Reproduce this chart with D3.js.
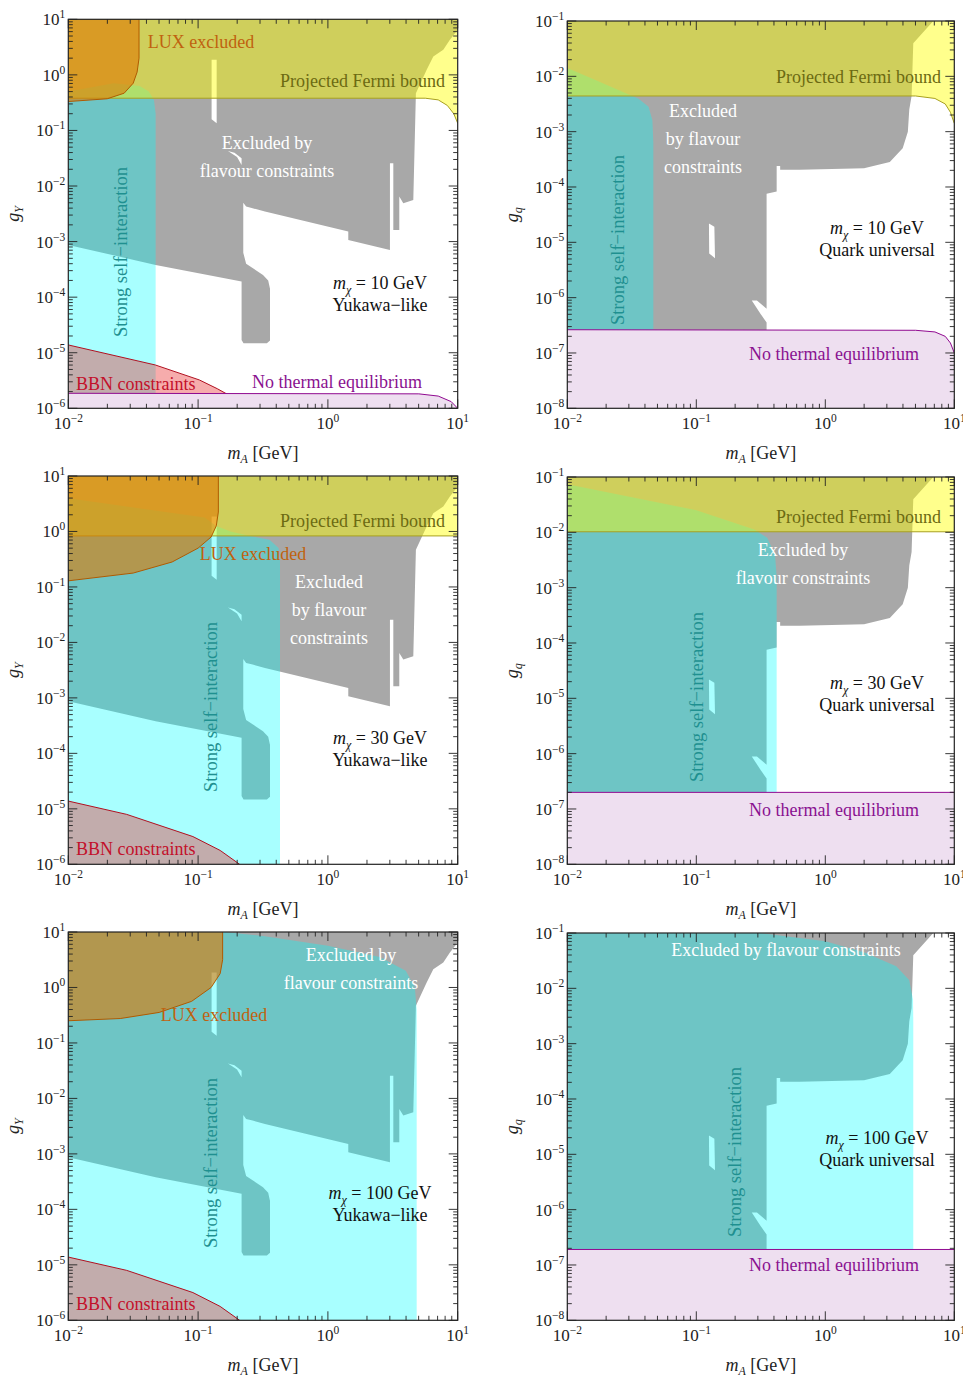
<!DOCTYPE html>
<html>
<head>
<meta charset="utf-8">
<script src="https://cdn.jsdelivr.net/npm/d3@7"></script>
<style>
body { margin:0; background:#fff; }
text { font-family: "Liberation Serif", "DejaVu Serif", serif; }
</style>
</head>
<body>
<svg id="fig" width="963" height="1376"></svg>
<script>
// all shapes are [log10 mA, log10 g]
var flavourYukawa = [[-2,1],[1,1],[1,0.81],[0.94,0.63],[0.889,0.45],[0.812,0.33],[0.761,0.09],[0.678,-0.33],[0.658,-2.25],[0.581,-2.31],[0.55,-2.19],[0.55,-2.79],[0.504,-2.79],[0.504,-1.59],[0.478,-1.59],[0.478,-3.15],[0.157,-2.97],[0.157,-2.82],[-0.485,-2.46],[-0.58,-2.4],[-0.63,-2.37],[-0.652,-2.3],[-0.652,-3.2],[-0.63,-3.4],[-0.5,-3.6],[-0.46,-3.7],[-0.446,-3.85],[-0.446,-4.78],[-0.47,-4.83],[-0.65,-4.83],[-0.665,-4.77],[-0.665,-3.72],[-1.327,-3.42],[-2,-3.06]];
var flavourYukawaHoles = [
  [[-0.896,0.27],[-0.857,0.27],[-0.857,-0.87],[-0.896,-0.8]],
  [[-0.77,-1.37],[-0.72,-1.4],[-0.665,-1.5],[-0.665,-1.62],[-0.7,-1.48]]
];
var flavourQuark = [[-2,-1],[0.837,-1],[0.682,-1.40],[0.669,-2.355],[0.651,-2.6],[0.64,-3.0],[0.6,-3.3],[0.5,-3.55],[0.3,-3.66],[-0.2,-3.69],[-0.35,-3.69],[-0.35,-3.62],[-0.377,-3.62],[-0.377,-4.08],[-0.455,-4.12],[-0.455,-6.2],[-0.53,-6.05],[-0.57,-6.05],[-0.5,-6.3],[-0.455,-6.45],[-0.455,-8],[-2,-8]];
var flavourQuarkHoles = [[[-0.902,-4.66],[-0.86,-4.72],[-0.855,-5.29],[-0.9,-5.2]]];

var selfA = [[-2,-0.3],[-1.65,-0.15],[-1.45,-0.2],[-1.38,-0.3],[-1.34,-0.45],[-1.327,-0.7],[-1.327,-8],[-2,-8]];
var selfB = [[-2,-1.85],[-1.8,-2.05],[-1.6,-2.25],[-1.45,-2.4],[-1.37,-2.55],[-1.34,-2.8],[-1.333,-3.2],[-1.333,-8],[-2,-8]];
var selfC = [[-2,0.6],[-0.95,0.25],[-0.86,0.1],[-0.75,0.0],[-0.6,-0.08],[-0.45,-0.15],[-0.38,-0.3],[-0.369,-0.5],[-0.369,-8],[-2,-8]];
var selfD = [[-2,-1.13],[-1.0,-1.6],[-0.55,-1.95],[-0.45,-2.1],[-0.39,-2.4],[-0.377,-2.8],[-0.377,-8],[-2,-8]];
var selfE = [[-2,1],[-0.8,1],[-0.5,0.93],[0,0.75],[0.4,0.55],[0.6,0.3],[0.67,0.0],[0.684,-0.4],[0.684,-8],[-2,-8]];
var selfF = [[-2,-1],[-0.5,-1],[0,-1.15],[0.3,-1.35],[0.55,-1.6],[0.65,-1.85],[0.68,-2.2],[0.682,-2.6],[0.682,-8],[-2,-8]];

var fermiA = [[-2,-0.42],[0.75,-0.42],[0.85,-0.45],[0.92,-0.55],[0.97,-0.7],[1,-0.87]];
var fermiB = [[-2,-2.355],[0.7,-2.355],[0.85,-2.4],[0.93,-2.5],[0.97,-2.65],[1,-2.85]];
var fermiC = [[-2,-0.08],[1,-0.08]];
var fermiD = [[-2,-1.99],[1,-1.99]];

var luxA = [[-1.455,1],[-1.455,0.3],[-1.47,0.05],[-1.5,-0.15],[-1.57,-0.33],[-1.7,-0.43],[-2,-0.48]];
var luxC = [[-0.844,1],[-0.844,0.35],[-0.86,0.1],[-0.9,-0.1],[-1.0,-0.3],[-1.2,-0.55],[-1.5,-0.75],[-2,-0.89]];
var luxE = [[-0.811,1],[-0.811,0.5],[-0.83,0.25],[-0.9,0.0],[-1.05,-0.25],[-1.3,-0.45],[-1.6,-0.56],[-2,-0.6]];

var bbnA = [[-2,-4.86],[-1.33,-5.22],[-0.99,-5.49],[-0.85,-5.65],[-0.75,-5.78],[-0.72,-6]];
var bbnC = [[-2,-4.86],[-1.55,-5.1],[-1.04,-5.5],[-0.83,-5.75],[-0.68,-6]];

var thermalA = [[-2,-5.73],[0.7,-5.74],[0.85,-5.78],[0.95,-5.88],[1,-6]];
var thermalB = [[-2,-6.58],[0.7,-6.59],[0.85,-6.62],[0.93,-6.7],[0.97,-6.82],[1,-7.0]];
var thermalD = [[-2,-6.70],[1,-6.70]];
var thermalF = [[-2,-6.72],[1,-6.72]];

var xTicks = [-2,-1,0,1];
var yTicksLeft = [-6,-5,-4,-3,-2,-1,0,1];
var yTicksRight = [-8,-7,-6,-5,-4,-3,-2,-1];

var panels = [
 {x0:68.3,x1:457.7,y0:19.3,y1:408.3,ymin:-6,ymax:1,ylab:"Y",flav:flavourYukawa,holes:flavourYukawaHoles,self:selfA,fermi:fermiA,lux:luxA,bbn:bbnA,thermal:thermalA,mass:"10",kind:"Yukawa−like",
  labels:[["LUX excluded",201,48,"m","#c0620f"],["Projected Fermi bound",445,87,"e","#6c6a12"],["Excluded by",267,149,"m","#fff"],["flavour constraints",267,177,"m","#fff"],["BBN constraints",76,390,"s","#c3102a"],["No thermal equilibrium",337,388,"m","#8a1290"]],self_lab:[127,252],massPos:[380,289]},
 {x0:567.3,x1:954.3,y0:21,y1:408.3,ymin:-8,ymax:-1,ylab:"q",flav:flavourQuark,holes:flavourQuarkHoles,self:selfB,fermi:fermiB,thermal:thermalB,mass:"10",kind:"Quark universal",
  labels:[["Projected Fermi bound",941,83,"e","#6c6a12"],["Excluded",703,117,"m","#fff"],["by flavour",703,145,"m","#fff"],["constraints",703,173,"m","#fff"],["No thermal equilibrium",834,360,"m","#8a1290"]],self_lab:[624,240],massPos:[877,234]},
 {x0:68.3,x1:457.7,y0:476,y1:864.3,ymin:-6,ymax:1,ylab:"Y",flav:flavourYukawa,holes:flavourYukawaHoles,self:selfC,fermi:fermiC,lux:luxC,bbn:bbnC,mass:"30",kind:"Yukawa−like",
  labels:[["Projected Fermi bound",445,527,"e","#6c6a12"],["LUX excluded",253,560,"m","#c0620f"],["Excluded",329,588,"m","#fff"],["by flavour",329,616,"m","#fff"],["constraints",329,644,"m","#fff"],["BBN constraints",76,855,"s","#c3102a"]],self_lab:[217,707],massPos:[380,744]},
 {x0:567.3,x1:954.3,y0:477,y1:864.3,ymin:-8,ymax:-1,ylab:"q",flav:flavourQuark,holes:flavourQuarkHoles,self:selfD,fermi:fermiD,thermal:thermalD,mass:"30",kind:"Quark universal",
  labels:[["Projected Fermi bound",941,523,"e","#6c6a12"],["Excluded by",803,556,"m","#fff"],["flavour constraints",803,584,"m","#fff"],["No thermal equilibrium",834,816,"m","#8a1290"]],self_lab:[703,697],massPos:[877,689]},
 {x0:68.3,x1:457.7,y0:932,y1:1320.3,ymin:-6,ymax:1,ylab:"Y",flav:flavourYukawa,holes:flavourYukawaHoles,self:selfE,lux:luxE,bbn:bbnC,mass:"100",kind:"Yukawa−like",
  labels:[["Excluded by",351,961,"m","#fff"],["flavour constraints",351,989,"m","#fff"],["LUX excluded",214,1021,"m","#c0620f"],["BBN constraints",76,1310,"s","#c3102a"]],self_lab:[217,1163],massPos:[380,1199]},
 {x0:567.3,x1:954.3,y0:933,y1:1320.3,ymin:-8,ymax:-1,ylab:"q",flav:flavourQuark,holes:flavourQuarkHoles,self:selfF,thermal:thermalF,mass:"100",kind:"Quark universal",
  labels:[["Excluded by flavour constraints",786,956,"m","#fff"],["No thermal equilibrium",834,1271,"m","#8a1290"]],self_lab:[741,1152],massPos:[877,1144]}
];

var svg = d3.select("#fig");
var anchor = {m:"middle", e:"end", s:"start"};
var FS = 18;

panels.forEach(function(p, i){
  var x = d3.scaleLinear().domain([-2,1]).range([p.x0,p.x1]);
  var y = d3.scaleLinear().domain([p.ymin,p.ymax]).range([p.y1,p.y0]);
  var line = d3.line().x(d => x(d[0])).y(d => y(d[1]));
  var ringPath = r => line(r) + "Z";

  svg.append("clipPath").attr("id","clip"+i).append("rect")
    .attr("x",p.x0).attr("y",p.y0).attr("width",p.x1-p.x0).attr("height",p.y1-p.y0);
  var g = svg.append("g").attr("clip-path","url(#clip"+i+")");

  // flavour
  g.append("path").attr("d", ringPath(p.flav)+p.holes.map(ringPath).join(""))
    .attr("fill","#a8a8a8").attr("fill-rule","evenodd");
  // self interaction
  g.append("path").attr("d", ringPath(p.self)).attr("fill","#00ffff").attr("fill-opacity",0.34);
  // fermi
  if (p.fermi) {
    var fr = p.fermi.concat([[1,p.ymax+1],[-2,p.ymax+1]]);
    g.append("path").attr("d", ringPath(fr)).attr("fill","#ffff00").attr("fill-opacity",0.45);
    g.append("path").attr("d", line(p.fermi)).attr("fill","none").attr("stroke","#a8a020").attr("stroke-width",1);
  }
  if (p.lux) {
    var lr = p.lux.concat([[-2,p.ymax+1]]);
    g.append("path").attr("d", ringPath(lr)).attr("fill","#e07800").attr("fill-opacity",0.6);
    g.append("path").attr("d", line(p.lux)).attr("fill","none").attr("stroke","#b05a00").attr("stroke-width",1);
  }
  if (p.bbn) {
    var br = p.bbn.concat([[p.bbn[p.bbn.length-1][0],p.ymin-1],[-2,p.ymin-1]]);
    g.append("path").attr("d", ringPath(br)).attr("fill","#e83030").attr("fill-opacity",0.4);
    g.append("path").attr("d", line(p.bbn)).attr("fill","none").attr("stroke","#b01020").attr("stroke-width",1);
  }
  if (p.thermal) {
    var tr = p.thermal.concat([[1,p.ymin-1],[-2,p.ymin-1]]);
    g.append("path").attr("d", ringPath(tr)).attr("fill","#eedff0");
    g.append("path").attr("d", line(p.thermal)).attr("fill","none").attr("stroke","#900a90").attr("stroke-width",1);
  }

  // frame and ticks
  svg.append("rect").attr("x",p.x0).attr("y",p.y0).attr("width",p.x1-p.x0).attr("height",p.y1-p.y0)
    .attr("fill","none").attr("stroke","#222").attr("stroke-width",1.2);
  var tk = svg.append("g").attr("stroke","#222").attr("stroke-width",0.9);
  for (var d = -2; d <= 1; d++) {
    for (var k = 1; k <= 9; k++) {
      if (d == 1 && k > 1) break;
      var v = d + Math.log10(k), len = k == 1 ? 9 : 4.5;
      tk.append("line").attr("x1",x(v)).attr("x2",x(v)).attr("y1",p.y1).attr("y2",p.y1-len);
      tk.append("line").attr("x1",x(v)).attr("x2",x(v)).attr("y1",p.y0).attr("y2",p.y0+len);
    }
  }
  for (var d = p.ymin; d <= p.ymax; d++) {
    for (var k = 1; k <= 9; k++) {
      if (d == p.ymax && k > 1) break;
      var v = d + Math.log10(k), len = k == 1 ? 9 : 4.5;
      tk.append("line").attr("y1",y(v)).attr("y2",y(v)).attr("x1",p.x0).attr("x2",p.x0+len);
      tk.append("line").attr("y1",y(v)).attr("y2",y(v)).attr("x1",p.x1).attr("x2",p.x1-len);
    }
  }

  // tick labels
  xTicks.forEach(function(t){
    var tx = svg.append("text").attr("x",x(t)).attr("y",p.y1+21).attr("text-anchor","middle")
      .attr("font-size",17).attr("fill","#222");
    tx.append("tspan").text("10");
    tx.append("tspan").attr("dy",-7).attr("font-size",11.5).text(t < 0 ? "−"+(-t) : t);
  });
  var yts = p.ymin == -6 ? yTicksLeft : yTicksRight;
  yts.forEach(function(t){
    var tx = svg.append("text").attr("x",p.x0-3).attr("y",y(t)+6).attr("text-anchor","end")
      .attr("font-size",17).attr("fill","#222");
    tx.append("tspan").text("10");
    tx.append("tspan").attr("dy",-7).attr("font-size",11.5).text(t < 0 ? "−"+(-t) : t);
  });

  // axis titles
  var xt = svg.append("text").attr("x",(p.x0+p.x1)/2).attr("y",p.y1+51).attr("text-anchor","middle")
    .attr("font-size",FS).attr("fill","#222");
  xt.append("tspan").attr("font-style","italic").text("m");
  xt.append("tspan").attr("dy",4).attr("font-size",12).attr("font-style","italic").text("A");
  xt.append("tspan").attr("dy",-4).text(" [GeV]");
  var yl = svg.append("text").attr("transform","translate("+(p.x0-49)+","+((p.y0+p.y1)/2)+") rotate(-90)")
    .attr("text-anchor","middle").attr("font-size",FS).attr("fill","#222");
  yl.append("tspan").attr("font-style","italic").text("g");
  yl.append("tspan").attr("dy",4).attr("font-size",12).attr("font-style","italic").text(p.ylab);

  // region labels
  p.labels.forEach(function(l){
    svg.append("text").attr("x",l[1]).attr("y",l[2]).attr("text-anchor",anchor[l[3]])
      .attr("font-size",FS).attr("fill",l[4]).text(l[0]);
  });
  svg.append("text").attr("transform","translate("+p.self_lab[0]+","+p.self_lab[1]+") rotate(-90)")
    .attr("text-anchor","middle").attr("font-size",18.5).attr("fill","#1f9090").text("Strong self−interaction");
  var mt = svg.append("text").attr("x",p.massPos[0]).attr("y",p.massPos[1]).attr("text-anchor","middle")
    .attr("font-size",FS).attr("fill","#111");
  mt.append("tspan").attr("font-style","italic").text("m");
  mt.append("tspan").attr("dy",5).attr("font-size",12).attr("font-style","italic").text("χ");
  mt.append("tspan").attr("dy",-5).text(" = "+p.mass+" GeV");
  svg.append("text").attr("x",p.massPos[0]).attr("y",p.massPos[1]+22).attr("text-anchor","middle")
    .attr("font-size",FS).attr("fill","#111").text(p.kind);
});
</script>
</body>
</html>
